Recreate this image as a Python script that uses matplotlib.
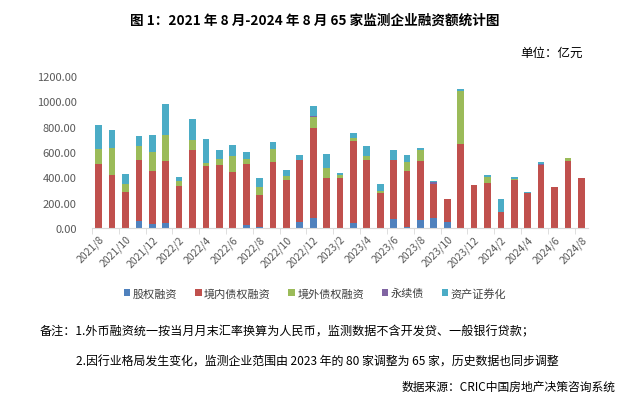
import matplotlib
matplotlib.use("Agg")
import matplotlib.pyplot as plt
import numpy as np

plt.rcParams['font.family'] = ['Noto Sans CJK SC', 'DejaVu Sans']

months = []
y, m = 2021, 8
for _ in range(37):
    months.append(f"{y}/{m}")
    m += 1
    if m > 12:
        m = 1
        y += 1

equity   = [0, 0, 0, 56, 35, 43, 0, 0, 0, 0, 0, 27, 8, 0, 0, 48, 80, 0, 0, 37, 0, 0, 72, 8, 64, 80, 48, 0, 0, 0, 0, 0, 0, 0, 0, 0, 0]
domestic = [504, 416, 288, 480, 413, 485, 328, 616, 488, 496, 440, 477, 256, 520, 376, 488, 712, 392, 392, 651, 536, 280, 464, 440, 464, 264, 184, 664, 336, 352, 128, 376, 280, 496, 320, 528, 392]
overseas = [120, 216, 61, 112, 152, 208, 40, 80, 24, 48, 128, 40, 56, 104, 32, 0, 88, 80, 24, 24, 32, 16, 0, 72, 88, 0, 0, 416, 0, 48, 0, 8, 0, 0, 0, 24, 0]
perpetual= [0, 0, 0, 0, 0, 0, 0, 0, 0, 0, 0, 0, 0, 0, 0, 0, 8, 0, 0, 0, 0, 0, 0, 0, 0, 16, 0, 0, 0, 0, 0, 0, 0, 8, 0, 0, 0]
abs_     = [192, 144, 75, 80, 136, 240, 35, 168, 192, 72, 88, 56, 72, 56, 48, 40, 72, 112, 16, 40, 80, 48, 80, 56, 16, 8, 0, 16, 0, 16, 104, 16, 8, 16, 0, 0, 0]

series_names = ['股权融资', '境内债权融资', '境外债权融资', '永续债', '资产证券化']
series = [equity, domestic, overseas, perpetual, abs_]
colors = ['#4F81BD', '#C0504D', '#9BBB59', '#8064A2', '#4BACC6']

fig = plt.figure(figsize=(6.27, 4.02), dpi=100)
ax = fig.add_axes([92/627, 1-229/402, 496/627, 152/402])

x = np.arange(len(months))
bottom = np.zeros(len(months))
handles = []
for name, vals, c in zip(series_names, series, colors):
    v = np.array(vals, dtype=float)
    h = ax.bar(x, v, 0.5, bottom=bottom, color=c, label=name, linewidth=0)
    handles.append(h)
    bottom += v

ax.set_xlim(-0.5, len(months) - 0.5)
ax.set_ylim(0, 1200)
ax.set_yticks(np.arange(0, 1201, 200))
ax.set_yticklabels([f"{v:.2f}" for v in np.arange(0, 1201, 200)], fontsize=8, color='#595959')
for s in ['top', 'right', 'left']:
    ax.spines[s].set_visible(False)
ax.spines['bottom'].set_color('#D9D9D9')
ax.tick_params(axis='y', length=0, pad=11)

ax.set_xticks(x[::2])
ax.set_xticklabels(months[::2], rotation=45, ha='right', rotation_mode='anchor',
                   fontsize=7.5, color='#595959')
ax.tick_params(axis='x', length=0, pad=4)
ax.set_xticks(np.arange(-0.5, len(months), 2), minor=True)
ax.tick_params(axis='x', which='minor', length=4, color='#D9D9D9', direction='out')

fig.text(315/627, 1-21/402, '图 1：2021 年 8 月-2024 年 8 月 65 家监测企业融资额统计图',
         ha='center', va='center', fontsize=9.8, fontweight='bold')
fig.text(583/627, 1-53/402, '单位：亿元', ha='right', va='center', fontsize=9)

leg = fig.legend(handles=handles, loc='center', bbox_to_anchor=(315/627, 1-294/402),
                 ncol=5, frameon=False, fontsize=8, handlelength=0.6, handleheight=0.6,
                 handletextpad=0.2, columnspacing=1.6, labelcolor='#404040')

fig.text(40/627, 1-332/402, '备注：1.外币融资统一按当月月末汇率换算为人民币，监测数据不含开发贷、一般银行贷款；',
         ha='left', va='center', fontsize=8.7)
fig.text(76/627, 1-362/402, '2.因行业格局发生变化，监测企业范围由 2023 年的 80 家调整为 65 家，历史数据也同步调整',
         ha='left', va='center', fontsize=8.6)
fig.text(616/627, 1-387/402, '数据来源：CRIC中国房地产决策咨询系统',
         ha='right', va='center', fontsize=8.5)

fig.savefig('out.png', dpi=100)
